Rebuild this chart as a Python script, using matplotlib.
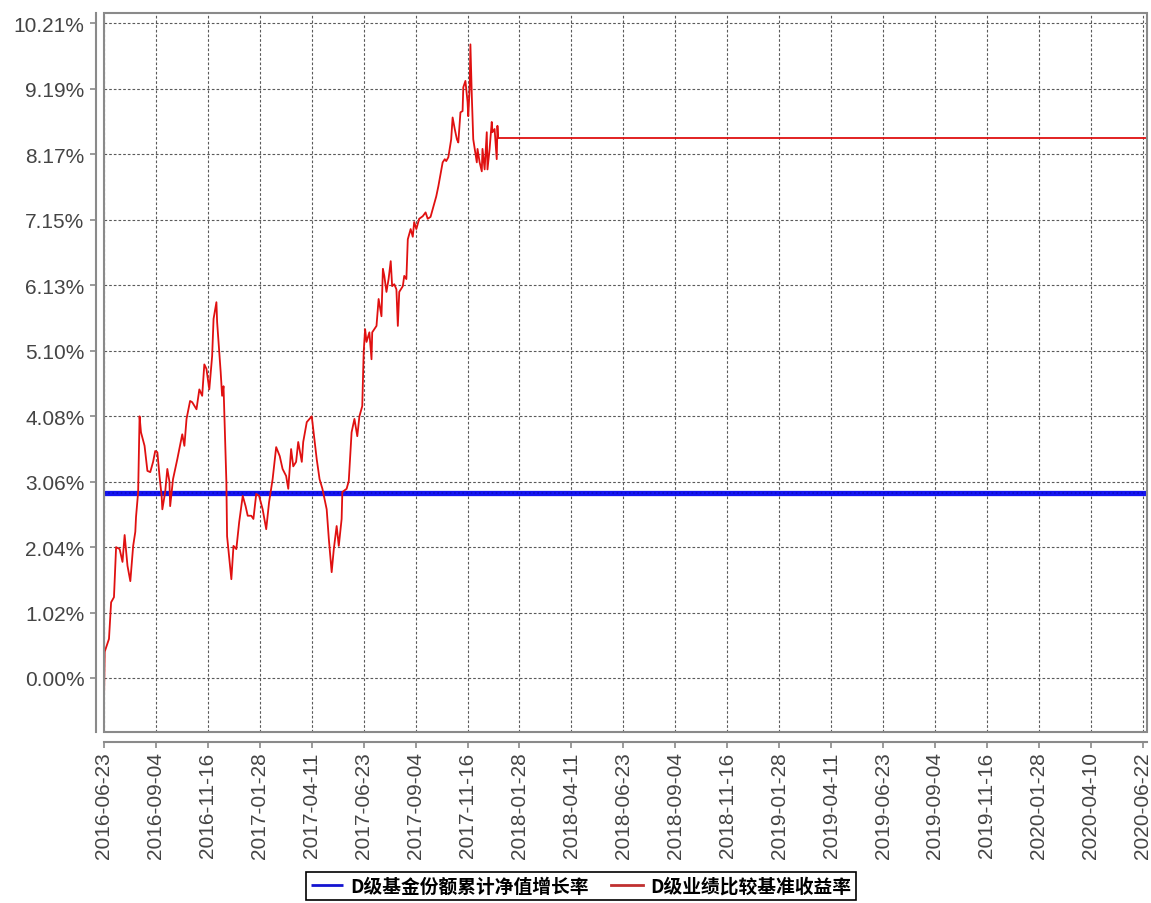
import numpy as np
import matplotlib
matplotlib.use("Agg")
import matplotlib.pyplot as plt
import matplotlib.dates as mdates
from matplotlib.patches import Rectangle

start_date = np.datetime64("2016-06-23")

# D级业绩比较基准收益率 (days after start, percent)
red_days = [
    0, 1, 7, 10, 14, 17, 22, 26, 29, 33, 37, 41, 44, 45, 48, 50, 52, 57, 61, 65,
    69, 72, 75, 78, 81, 82, 86, 89, 92, 93, 97, 103, 110, 113, 116, 121, 124, 130, 134, 138,
    141, 144, 148, 152, 154, 158, 159, 164, 166, 168, 172, 173, 179, 182, 186, 190, 195, 199, 202, 207,
    210, 214, 218, 223, 228, 232, 237, 242, 247, 251, 256, 259, 263, 266, 270, 273, 278, 280, 285, 292,
    299, 303, 307, 313, 316, 320, 323, 327, 330, 334, 335, 341, 344, 348, 352, 356, 359, 363, 365, 367,
    369, 373, 376, 377, 383, 386, 390, 392, 394, 397, 400, 403, 405, 408, 411, 413, 415, 420, 422, 425,
    427, 431, 434, 436, 439, 443, 448, 452, 455, 459, 462, 467, 470, 476, 479, 481, 484, 488, 490, 493,
    496, 498, 501, 504, 505, 508, 511, 512, 514, 515, 517, 519, 524, 525, 528, 531, 532, 535, 538, 539,
    542, 545, 546, 549, 552, 553, 554, 1466,
]
red_values = [
    -0.35, 0.41, 0.61, 1.18, 1.26, 2.04, 2.01, 1.81, 2.23, 1.75, 1.51, 2.06, 2.28, 2.51, 2.90, 4.08, 3.83, 3.62, 3.23, 3.21,
    3.37, 3.54, 3.52, 3.15, 2.84, 2.63, 2.90, 3.26, 3.06, 2.68, 3.10, 3.41, 3.80, 3.62, 4.04, 4.32, 4.30, 4.19, 4.50, 4.40,
    4.89, 4.82, 4.50, 5.02, 5.60, 5.86, 5.55, 4.77, 4.40, 4.55, 3.06, 2.21, 1.54, 2.06, 2.01, 2.43, 2.84, 2.68, 2.53, 2.53,
    2.48, 2.87, 2.84, 2.63, 2.32, 2.74, 3.10, 3.60, 3.46, 3.26, 3.15, 2.95, 3.57, 3.30, 3.37, 3.68, 3.37, 3.68, 3.99, 4.08,
    3.41, 3.10, 2.95, 2.63, 2.17, 1.65, 2.01, 2.37, 2.06, 2.48, 2.90, 2.95, 3.07, 3.83, 4.04, 3.77, 4.08, 4.24, 5.08, 5.44,
    5.24, 5.39, 4.97, 5.39, 5.49, 5.91, 5.64, 6.38, 6.27, 6.02, 6.22, 6.50, 6.11, 6.14, 6.06, 5.49, 6.02, 6.11, 6.27, 6.22,
    6.84, 7.00, 6.88, 7.11, 7.00, 7.16, 7.20, 7.26, 7.16, 7.19, 7.31, 7.51, 7.67, 8.04, 8.09, 8.06, 8.12, 8.40, 8.74, 8.56,
    8.40, 8.35, 8.82, 8.84, 9.21, 9.31, 8.98, 8.76, 9.21, 9.88, 9.07, 8.40, 8.04, 8.25, 8.04, 7.90, 8.25, 7.93, 8.51, 7.93,
    8.25, 8.67, 8.51, 8.56, 8.09, 8.61, 8.42, 8.42,
]

# D级基金份额累计净值增长率: flat over the whole period
blue_days = [0, 1466]
blue_values = [2.88, 2.88]

x_tick_labels = [
    "2016-06-23", "2016-09-04", "2016-11-16", "2017-01-28", "2017-04-11", "2017-06-23",
    "2017-09-04", "2017-11-16", "2018-01-28", "2018-04-11", "2018-06-23", "2018-09-04",
    "2018-11-16", "2019-01-28", "2019-04-11", "2019-06-23", "2019-09-04", "2019-11-16",
    "2020-01-28", "2020-04-10", "2020-06-22",
]
y_tick_step = 1.02085
y_tick_count = 11

series_labels = ["D级基金份额累计净值增长率", "D级业绩比较基准收益率"]

plt.rcParams["font.family"] = ["Liberation Sans", "DejaVu Sans"]

red_dates = start_date + np.array(red_days).astype("timedelta64[D]")
blue_dates = start_date + np.array(blue_days).astype("timedelta64[D]")
tick_dates = np.array(x_tick_labels, dtype="datetime64[D]")

fig = plt.figure(figsize=(11.51, 9.04), dpi=100)
ax = fig.add_axes([104 / 1151, 171 / 904, 1043 / 1151, 719 / 904])

ax.plot(blue_dates, blue_values, color="#1414f0", linewidth=3.8, solid_capstyle="butt",
        label=series_labels[0], zorder=3)
ax.plot(blue_dates, blue_values, color="#00008c", linewidth=1.2, linestyle=(0, (1, 1.5)),
        alpha=0.45, zorder=3)
ax.plot(red_dates, red_values, color="#e01010", linewidth=1.3, label=series_labels[1], zorder=4)

ax.set_xlim(red_dates[0], red_dates[-1])
ax.set_ylim(-0.842, 10.369)

yticks = [i * y_tick_step for i in range(y_tick_count)]
ax.set_yticks(yticks)
ax.set_yticklabels(["{:.2f}%".format(v) for v in yticks])
ax.set_xticks(mdates.date2num(tick_dates))
ax.set_xticklabels(x_tick_labels)

ax.grid(True, color="#5a5a5a", linewidth=0.8, linestyle=(0, (2.4, 1.8)))
ax.set_axisbelow(True)

for side in ["top", "right"]:
    ax.spines[side].set_visible(False)
ax.spines["left"].set_position(("outward", 6))
ax.spines["bottom"].set_position(("outward", 7))
for side in ["left", "bottom"]:
    ax.spines[side].set_color("#8a8a8a")
    ax.spines[side].set_linewidth(1.5)
ax.add_patch(Rectangle((0, 0), 1, 1, transform=ax.transAxes, fill=False,
                       edgecolor="#8a8a8a", linewidth=1.5, clip_on=False, zorder=5))

ax.tick_params(axis="both", colors="#8a8a8a", labelcolor="#444444", labelsize=15,
               length=4, width=1.2)
ax.tick_params(axis="y", pad=4)
ax.tick_params(axis="x", pad=3, labelrotation=90)

leg = fig.legend(loc="lower center", bbox_to_anchor=(581 / 1151, 0.0), ncol=2,
                 frameon=True, fancybox=False, edgecolor="#000000", framealpha=1,
                 handlelength=1.7, handletextpad=0.4, columnspacing=1.2,
                 borderpad=0.25, borderaxespad=0.15,
                 prop={"family": ["Noto Sans CJK SC", "DejaVu Sans"],
                       "size": 13.5, "weight": "bold"})
leg.get_frame().set_linewidth(1.2)
for line in leg.get_lines():
    line.set_linewidth(2.0)
leg.get_lines()[0].set_color("#1414d0")
leg.get_lines()[1].set_color("#c03030")

fig.savefig("out.png", dpi=100)
